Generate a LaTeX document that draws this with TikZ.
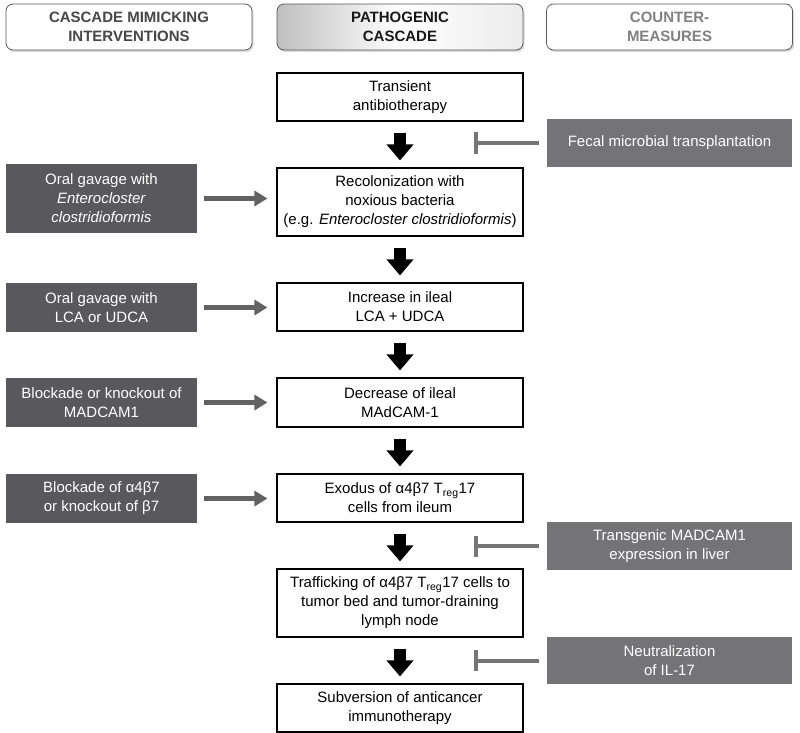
\documentclass[tikz,border=0pt]{standalone}
\usepackage{fontspec}
\setmainfont{Liberation Sans}
\usetikzlibrary{arrows.meta,shadows}
\definecolor{mimicfill}{HTML}{59595B}
\definecolor{counterfill}{HTML}{747477}
\definecolor{feedgray}{HTML}{626262}
\definecolor{blockgray}{HTML}{767678}

\begin{document}
\begin{tikzpicture}[x=1pt, y=-1pt, font=\fontsize{15}{19}\selectfont,
  header/.style={draw=black!65, line width=0.8pt, rounded corners=7pt, fill=white,
    minimum width=246pt, minimum height=46pt, align=center,
    font=\fontsize{15}{19.5}\selectfont\bfseries,
    drop shadow={opacity=0.3, shadow xshift=1.5pt, shadow yshift=-2pt}},
  cascade/.style={draw=black, line width=1.1pt, fill=white, minimum width=246pt, align=center, inner sep=2pt},
  mimic/.style={fill=mimicfill, text=white, minimum width=191pt, align=center, inner sep=2pt},
  counter/.style={fill=counterfill, text=white, minimum width=245pt, align=center, inner sep=2pt},
  flow/.style={line width=12pt, -{Triangle[width=26pt,length=16pt]}, shorten <=11pt, shorten >=7pt},
  feed/.style={feedgray, line width=5pt, -{Triangle[width=15pt,length=13pt]}, shorten <=7pt, shorten >=9pt},
  block/.style={blockgray, line width=4pt, -{Bar[width=21pt]}, shorten <=8pt}]
  \useasboundingbox (0,0) rectangle (800,733);

  \node[header, text=black!72] (hmimic) at (129,27) {CASCADE MIMICKING\\INTERVENTIONS};
  \node[header, text=black!90, left color=gray!50, right color=gray!15, middle color=white]
    (hcascade) at (400,27) {PATHOGENIC\\CASCADE};
  \node[header, text=black!50] (hcounter) at (669.5,27) {COUNTER-\\MEASURES};

  \node[cascade, minimum height=48pt] (antibio) at (400,97) {Transient\\antibiotherapy};
  \node[cascade, minimum height=68pt] (recolon) at (400,202)
    {Recolonization with\\noxious bacteria\\(e.g. \textit{Enterocloster clostridioformis})};
  \node[cascade, minimum height=48pt] (bileacid) at (400,307) {Increase in ileal\\LCA + UDCA};
  \node[cascade, minimum height=49pt] (madcam) at (400,402.5) {Decrease of ileal\\MAdCAM-1};
  \node[cascade, minimum height=48pt] (exodus) at (400,498)
    {Exodus of α4β7 T\textsubscript{reg}17\\cells from ileum};
  \node[cascade, minimum height=68pt] (traffic) at (400,603)
    {Trafficking of α4β7 T\textsubscript{reg}17 cells to\\tumor bed and tumor-draining\\lymph node};
  \node[cascade, minimum height=48pt] (subvert) at (400,708) {Subversion of anticancer\\immunotherapy};

  \node[mimic, minimum height=69pt] (gavagebact) at (101.5,198.5)
    {Oral gavage with\\\textit{Enterocloster}\\\textit{clostridioformis}};
  \node[mimic, minimum height=49pt] (gavagebile) at (101.5,307.5) {Oral gavage with\\LCA or UDCA};
  \node[mimic, minimum height=49pt] (blockmad) at (101.5,402.5) {Blockade or knockout of\\MADCAM1};
  \node[mimic, minimum height=49pt] (blockitg) at (101.5,498.5) {Blockade of α4β7\\or knockout of β7};

  \node[counter, minimum height=48pt] (fmt) at (669.5,143) {Fecal microbial transplantation};
  \node[counter, minimum height=48pt] (transgen) at (669.5,546) {Transgenic MADCAM1\\expression in liver};
  \node[counter, minimum height=47pt] (neutral) at (669.5,660.5) {Neutralization\\of IL-17};

  \draw[flow] (antibio) -- (recolon);
  \draw[flow] (recolon) -- (bileacid);
  \draw[flow] (bileacid) -- (madcam);
  \draw[flow] (madcam) -- (exodus);
  \draw[flow] (exodus) -- (traffic);
  \draw[flow] (traffic) -- (subvert);

  \draw[feed] (gavagebact.east) -- (gavagebact.east -| recolon.west);
  \draw[feed] (gavagebile.east) -- (gavagebile.east -| bileacid.west);
  \draw[feed] (blockmad.east) -- (blockmad.east -| madcam.west);
  \draw[feed] (blockitg.east) -- (blockitg.east -| exodus.west);

  \draw[block] (fmt.west) -- ([xshift=-50pt]fmt.west -| antibio.east);
  \draw[block] (transgen.west) -- ([xshift=-50pt]transgen.west -| exodus.east);
  \draw[block] (neutral.west) -- ([xshift=-50pt]neutral.west -| traffic.east);
\end{tikzpicture}
\end{document}
